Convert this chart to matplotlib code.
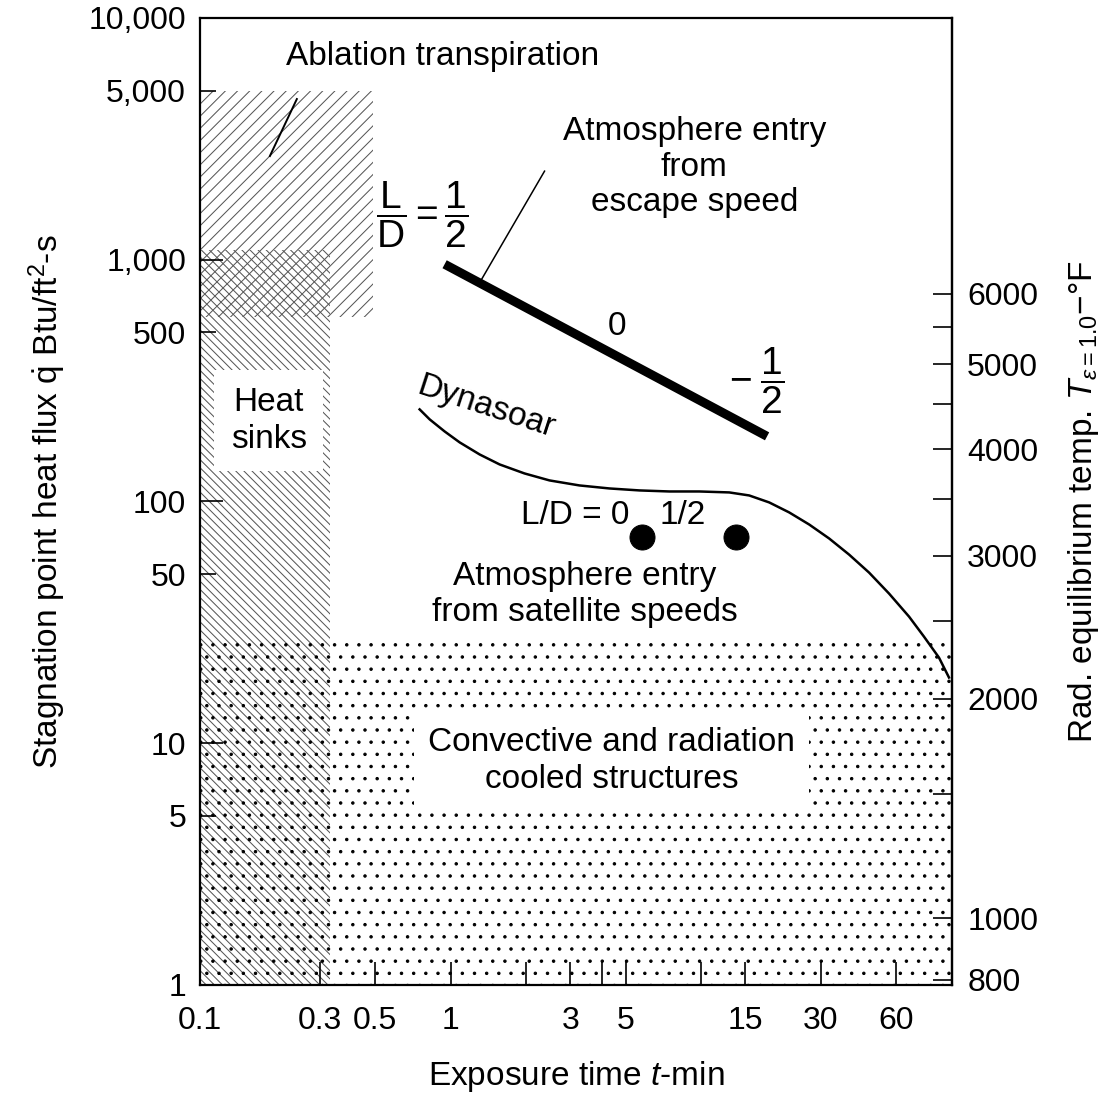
import matplotlib
matplotlib.use("Agg")
import matplotlib.pyplot as plt
from matplotlib.ticker import FixedLocator, FixedFormatter, NullLocator

# the hatch tile is one inch, so the dpi sets the dot / line spacing;
# all sizes below are given for 100 dpi and scaled with K
DPI = 73
K = 100.0 / DPI

plt.rcParams['font.family'] = ['Liberation Sans', 'DejaVu Sans']
plt.rcParams['mathtext.fontset'] = 'custom'
plt.rcParams['mathtext.rm'] = 'Liberation Sans'
plt.rcParams['mathtext.it'] = 'Liberation Sans:italic'
plt.rcParams['mathtext.sf'] = 'Liberation Sans'
plt.rcParams['hatch.linewidth'] = 1.0
FS = 24 * K
TICK_FS = 23 * K

# exposure time (min) vs stagnation point heat flux (Btu/ft2-s)
ablation_t = [0.1, 0.49]
ablation_q = [580, 5000]
heatsink_t = [0.1, 0.33]
heatsink_q = [1, 1100]
convective_t = [0.1, 100]
convective_q = [1, 28]

escape_t = [0.946, 18.3]
escape_q = [958, 186]

dynasoar_t = [0.752, 0.825, 0.946, 1.086, 1.305, 1.568, 1.971, 2.48, 3.265, 4.301,
              5.662, 7.457, 9.818, 12.93, 15.53, 18.66, 22.42, 26.94, 32.36, 38.87,
              46.7, 56.11, 67.42, 77.34, 88.77, 97.3]
dynasoar_q = [240.4, 218.5, 194.9, 175.6, 156.5, 142.3, 130.6, 122.2, 116.5, 113.2,
              111.1, 110.0, 110.0, 109.0, 105.9, 99.1, 90.1, 80.3, 70.3, 60.3,
              50.8, 41.6, 33.4, 27.6, 22.6, 18.7]

satellite_t = [5.82, 13.8]
satellite_q = [71.6, 71.6]

x_ticks = [0.1, 0.3, 0.5, 1, 2, 3, 4, 5, 10, 15, 30, 60]
x_labels = ['0.1', '0.3', '0.5', '1', '', '3', '', '5', '', '15', '30', '60']
y_major = [1, 10, 100, 1000, 10000]
y_major_labels = ['1', '10', '100', '1,000', '10,000']
y_minor = [5, 50, 500, 5000]
y_minor_labels = ['5', '50', '500', '5,000']
temp_ticks = [800, 1000, 1500, 2000, 2500, 3000, 3500, 4000, 4500, 5000, 5500, 6000]
temp_labels = ['800', '1000', '', '2000', '', '3000', '', '4000', '', '5000', '', '6000']

# radiation equilibrium: q proportional to T_R^4, q = 1 at about 785 F
T0_R = 1245.0


def q_to_temp(q):
    q = abs(q) + 1e-12
    return T0_R * q ** 0.25 - 460.0


def temp_to_q(t):
    return ((t + 460.0) / T0_R) ** 4


fig = plt.figure(figsize=(1113 / DPI, 1096 / DPI), dpi=DPI)
ax = fig.add_axes([0.1797, 0.1013, 0.6756, 0.8823])
ax.set_xscale('log')
ax.set_yscale('log')
ax.set_xlim(0.1, 100)
ax.set_ylim(1, 10000)

# regions
ax.fill_between(ablation_t, ablation_q[0], ablation_q[1], facecolor='none',
                edgecolor='#555555', hatch='//', linewidth=0, zorder=1)
ax.fill_between(heatsink_t, heatsink_q[0], heatsink_q[1], facecolor='none',
                edgecolor='#555555', hatch='\\\\\\', linewidth=0, zorder=1)
ax.fill_between(convective_t, convective_q[0], convective_q[1], facecolor='none',
                edgecolor='black', hatch='.', linewidth=0, zorder=1)

# curves
ax.plot(escape_t, escape_q, color='black', lw=6.5 * K, solid_capstyle='butt', zorder=4)
ax.plot(dynasoar_t, dynasoar_q, color='black', lw=1.8 * K, zorder=4)
ax.plot(satellite_t, satellite_q, 'o', color='black', ms=18 * K, zorder=4)

# leader lines
ax.plot([0.190, 0.2434], [2685, 4620], color='black', lw=1.4 * K)
ax.plot([1.329, 2.369], [830, 2325], color='black', lw=1.1 * K)

# annotations
ax.text(0.93, 6960, 'Ablation transpiration', fontsize=FS, ha='center', va='center')
ax.text(9.38, 2415, 'Atmosphere entry\nfrom\nescape speed', fontsize=FS,
        ha='center', va='center', linespacing=1.2)
ax.text(0.766, 1528, r'$\dfrac{\mathrm{L}}{\mathrm{D}}=\dfrac{1}{2}$', fontsize=28 * K,
        ha='center', va='center')
ax.text(4.63, 531, '0', fontsize=FS, ha='center', va='center')
ax.text(16.6, 314, r'$-\;\dfrac{1}{2}$', fontsize=28 * K, ha='center', va='center')
ax.text(1.38, 245, 'Dynasoar', fontsize=FS, ha='center', va='center', rotation=-18)
ax.text(5.17, 87.5, 'L/D = 0', fontsize=FS, ha='right', va='center')
ax.text(8.4, 87.5, '1/2', fontsize=FS, ha='center', va='center')
ax.text(3.42, 41.2, 'Atmosphere entry\nfrom satellite speeds', fontsize=FS,
        ha='center', va='center', linespacing=1.2)
ax.text(0.188, 216, 'Heat\nsinks', fontsize=FS, ha='center', va='center',
        linespacing=1.25, bbox=dict(facecolor='white', edgecolor='none', pad=12 * K))
ax.text(4.38, 8.46, 'Convective and radiation\ncooled structures', fontsize=FS,
        ha='center', va='center', linespacing=1.25,
        bbox=dict(facecolor='white', edgecolor='none', pad=10 * K))

# axes styling
for s in ax.spines.values():
    s.set_linewidth(1.6 * K)

ax.xaxis.set_major_locator(FixedLocator(x_ticks))
ax.xaxis.set_major_formatter(FixedFormatter(x_labels))
ax.xaxis.set_minor_locator(NullLocator())
ax.tick_params(axis='x', which='major', direction='in', length=16.5 * K, width=1.2 * K,
               labelsize=TICK_FS, pad=15 * K)

ax.yaxis.set_major_locator(FixedLocator(y_major))
ax.yaxis.set_major_formatter(FixedFormatter(y_major_labels))
ax.yaxis.set_minor_locator(FixedLocator(y_minor))
ax.yaxis.set_minor_formatter(FixedFormatter(y_minor_labels))
ax.tick_params(axis='y', which='major', direction='in', length=16.5 * K, width=1.2 * K,
               labelsize=TICK_FS, pad=10 * K)
ax.tick_params(axis='y', which='minor', direction='in', length=11.5 * K, width=1.2 * K,
               labelsize=TICK_FS, pad=10 * K)

ax.set_xlabel('Exposure time $t$-min', fontsize=FS, labelpad=17 * K)
ax.set_ylabel(r'Stagnation point heat flux $\dot{\mathrm{q}}$ Btu/ft$^2$-s',
              fontsize=FS, labelpad=15 * K)

sec = ax.secondary_yaxis('right', functions=(q_to_temp, temp_to_q))
sec.yaxis.set_major_locator(FixedLocator(temp_ticks))
sec.yaxis.set_major_formatter(FixedFormatter(temp_labels))
sec.yaxis.set_minor_locator(NullLocator())
sec.tick_params(axis='y', which='major', direction='in', length=14 * K, width=1.2 * K,
                labelsize=TICK_FS, pad=11 * K)
sec.spines['right'].set_linewidth(1.6 * K)
sec.set_ylabel(r'Rad. equilibrium temp. $T_{\varepsilon=1.0}$$-$°F', fontsize=FS,
               labelpad=20 * K)

fig.savefig('out.png', dpi=DPI)
